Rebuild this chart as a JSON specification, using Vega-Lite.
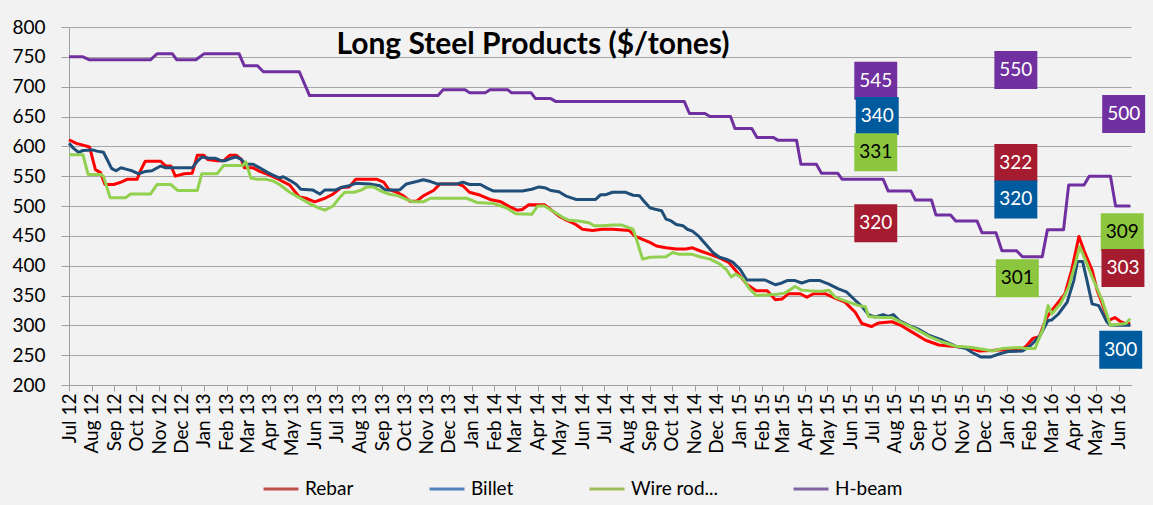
{
"$schema": "https://vega.github.io/schema/vega-lite/v6.json",
"width": 1062, "height": 358,
"autosize": "none",
"padding": {"left": 69, "top": 27, "right": 22, "bottom": 120},
"background": "#f2f2f2",
"config": {"view": {"stroke": null}, "font": "Lato"},
"title": {"text": "Long Steel Products ($/tones)", "font": "Lato", "fontSize": 30, "fontWeight": "bold", "color": "#000000", "anchor": "middle", "frame": "group", "offset": 0, "dx": -67, "dy": 42},
"datasets": {
"lines": [
{"s":"Rebar","d":"2012-07-01","v":611},{"s":"Rebar","d":"2012-07-11","v":605},{"s":"Rebar","d":"2012-07-20","v":602},{"s":"Rebar","d":"2012-07-29","v":599},{"s":"Rebar","d":"2012-08-06","v":561},{"s":"Rebar","d":"2012-08-13","v":556},{"s":"Rebar","d":"2012-08-19","v":536},{"s":"Rebar","d":"2012-08-31","v":536},{"s":"Rebar","d":"2012-09-10","v":540},{"s":"Rebar","d":"2012-09-19","v":545},{"s":"Rebar","d":"2012-10-02","v":545},{"s":"Rebar","d":"2012-10-06","v":558},{"s":"Rebar","d":"2012-10-13","v":575},{"s":"Rebar","d":"2012-11-03","v":575},{"s":"Rebar","d":"2012-11-10","v":567},{"s":"Rebar","d":"2012-11-17","v":567},{"s":"Rebar","d":"2012-11-23","v":550},{"s":"Rebar","d":"2012-12-05","v":554},{"s":"Rebar","d":"2012-12-16","v":555},{"s":"Rebar","d":"2012-12-23","v":585},{"s":"Rebar","d":"2013-01-01","v":585},{"s":"Rebar","d":"2013-01-06","v":578},{"s":"Rebar","d":"2013-01-19","v":576},{"s":"Rebar","d":"2013-01-28","v":576},{"s":"Rebar","d":"2013-02-05","v":585},{"s":"Rebar","d":"2013-02-14","v":585},{"s":"Rebar","d":"2013-02-21","v":578},{"s":"Rebar","d":"2013-02-25","v":564},{"s":"Rebar","d":"2013-03-09","v":564},{"s":"Rebar","d":"2013-03-18","v":558},{"s":"Rebar","d":"2013-03-29","v":553},{"s":"Rebar","d":"2013-04-14","v":544},{"s":"Rebar","d":"2013-04-28","v":535},{"s":"Rebar","d":"2013-05-11","v":515},{"s":"Rebar","d":"2013-05-20","v":513},{"s":"Rebar","d":"2013-06-01","v":507},{"s":"Rebar","d":"2013-06-15","v":513},{"s":"Rebar","d":"2013-06-26","v":520},{"s":"Rebar","d":"2013-07-07","v":531},{"s":"Rebar","d":"2013-07-18","v":532},{"s":"Rebar","d":"2013-07-27","v":545},{"s":"Rebar","d":"2013-08-24","v":545},{"s":"Rebar","d":"2013-09-03","v":540},{"s":"Rebar","d":"2013-09-10","v":528},{"s":"Rebar","d":"2013-09-21","v":523},{"s":"Rebar","d":"2013-09-30","v":517},{"s":"Rebar","d":"2013-10-09","v":508},{"s":"Rebar","d":"2013-10-18","v":508},{"s":"Rebar","d":"2013-10-27","v":517},{"s":"Rebar","d":"2013-11-10","v":526},{"s":"Rebar","d":"2013-11-19","v":537},{"s":"Rebar","d":"2013-12-12","v":537},{"s":"Rebar","d":"2013-12-20","v":534},{"s":"Rebar","d":"2013-12-29","v":523},{"s":"Rebar","d":"2014-01-13","v":518},{"s":"Rebar","d":"2014-01-26","v":511},{"s":"Rebar","d":"2014-02-10","v":507},{"s":"Rebar","d":"2014-02-23","v":498},{"s":"Rebar","d":"2014-03-04","v":493},{"s":"Rebar","d":"2014-03-11","v":494},{"s":"Rebar","d":"2014-03-20","v":502},{"s":"Rebar","d":"2014-04-10","v":502},{"s":"Rebar","d":"2014-04-19","v":494},{"s":"Rebar","d":"2014-04-30","v":483},{"s":"Rebar","d":"2014-05-11","v":476},{"s":"Rebar","d":"2014-05-23","v":469},{"s":"Rebar","d":"2014-06-01","v":461},{"s":"Rebar","d":"2014-06-15","v":459},{"s":"Rebar","d":"2014-06-28","v":461},{"s":"Rebar","d":"2014-07-12","v":461},{"s":"Rebar","d":"2014-08-04","v":459},{"s":"Rebar","d":"2014-08-11","v":450},{"s":"Rebar","d":"2014-08-22","v":444},{"s":"Rebar","d":"2014-09-01","v":439},{"s":"Rebar","d":"2014-09-10","v":433},{"s":"Rebar","d":"2014-09-23","v":430},{"s":"Rebar","d":"2014-10-07","v":428},{"s":"Rebar","d":"2014-10-20","v":428},{"s":"Rebar","d":"2014-10-29","v":430},{"s":"Rebar","d":"2014-11-08","v":425},{"s":"Rebar","d":"2014-11-22","v":419},{"s":"Rebar","d":"2014-12-05","v":413},{"s":"Rebar","d":"2014-12-18","v":405},{"s":"Rebar","d":"2014-12-27","v":392},{"s":"Rebar","d":"2015-01-11","v":369},{"s":"Rebar","d":"2015-01-24","v":358},{"s":"Rebar","d":"2015-02-08","v":358},{"s":"Rebar","d":"2015-02-16","v":347},{"s":"Rebar","d":"2015-02-19","v":343},{"s":"Rebar","d":"2015-02-28","v":344},{"s":"Rebar","d":"2015-03-09","v":353},{"s":"Rebar","d":"2015-03-25","v":353},{"s":"Rebar","d":"2015-04-03","v":347},{"s":"Rebar","d":"2015-04-12","v":353},{"s":"Rebar","d":"2015-04-28","v":353},{"s":"Rebar","d":"2015-05-09","v":347},{"s":"Rebar","d":"2015-05-25","v":339},{"s":"Rebar","d":"2015-06-08","v":322},{"s":"Rebar","d":"2015-06-17","v":303},{"s":"Rebar","d":"2015-06-30","v":298},{"s":"Rebar","d":"2015-07-10","v":304},{"s":"Rebar","d":"2015-07-28","v":306},{"s":"Rebar","d":"2015-08-09","v":300},{"s":"Rebar","d":"2015-08-24","v":289},{"s":"Rebar","d":"2015-09-12","v":275},{"s":"Rebar","d":"2015-09-30","v":267},{"s":"Rebar","d":"2015-10-18","v":265},{"s":"Rebar","d":"2015-11-06","v":263},{"s":"Rebar","d":"2015-11-24","v":257},{"s":"Rebar","d":"2015-12-12","v":258},{"s":"Rebar","d":"2015-12-21","v":259},{"s":"Rebar","d":"2016-01-18","v":258},{"s":"Rebar","d":"2016-01-27","v":265},{"s":"Rebar","d":"2016-02-05","v":278},{"s":"Rebar","d":"2016-02-14","v":281},{"s":"Rebar","d":"2016-02-23","v":311},{"s":"Rebar","d":"2016-03-02","v":325},{"s":"Rebar","d":"2016-03-11","v":339},{"s":"Rebar","d":"2016-03-20","v":353},{"s":"Rebar","d":"2016-03-29","v":392},{"s":"Rebar","d":"2016-04-08","v":449},{"s":"Rebar","d":"2016-04-15","v":425},{"s":"Rebar","d":"2016-04-26","v":392},{"s":"Rebar","d":"2016-05-03","v":358},{"s":"Rebar","d":"2016-05-09","v":339},{"s":"Rebar","d":"2016-05-18","v":308},{"s":"Rebar","d":"2016-05-27","v":313},{"s":"Rebar","d":"2016-06-04","v":306},{"s":"Rebar","d":"2016-06-11","v":303},{"s":"Rebar","d":"2016-06-17","v":303},
{"s":"Billet","d":"2012-07-01","v":605},{"s":"Billet","d":"2012-07-07","v":597},{"s":"Billet","d":"2012-07-14","v":590},{"s":"Billet","d":"2012-07-20","v":593},{"s":"Billet","d":"2012-08-02","v":594},{"s":"Billet","d":"2012-08-08","v":592},{"s":"Billet","d":"2012-08-17","v":590},{"s":"Billet","d":"2012-08-22","v":578},{"s":"Billet","d":"2012-08-28","v":563},{"s":"Billet","d":"2012-09-03","v":559},{"s":"Billet","d":"2012-09-10","v":564},{"s":"Billet","d":"2012-09-19","v":561},{"s":"Billet","d":"2012-09-25","v":559},{"s":"Billet","d":"2012-10-04","v":554},{"s":"Billet","d":"2012-10-13","v":558},{"s":"Billet","d":"2012-10-22","v":559},{"s":"Billet","d":"2012-11-03","v":567},{"s":"Billet","d":"2012-11-10","v":564},{"s":"Billet","d":"2012-12-16","v":564},{"s":"Billet","d":"2012-12-23","v":575},{"s":"Billet","d":"2012-12-29","v":582},{"s":"Billet","d":"2013-01-08","v":580},{"s":"Billet","d":"2013-01-17","v":580},{"s":"Billet","d":"2013-01-24","v":576},{"s":"Billet","d":"2013-01-30","v":576},{"s":"Billet","d":"2013-02-07","v":580},{"s":"Billet","d":"2013-02-14","v":582},{"s":"Billet","d":"2013-02-21","v":578},{"s":"Billet","d":"2013-02-27","v":570},{"s":"Billet","d":"2013-03-09","v":570},{"s":"Billet","d":"2013-03-18","v":564},{"s":"Billet","d":"2013-03-29","v":556},{"s":"Billet","d":"2013-04-08","v":550},{"s":"Billet","d":"2013-04-14","v":547},{"s":"Billet","d":"2013-04-19","v":549},{"s":"Billet","d":"2013-04-28","v":543},{"s":"Billet","d":"2013-05-07","v":536},{"s":"Billet","d":"2013-05-13","v":528},{"s":"Billet","d":"2013-05-29","v":527},{"s":"Billet","d":"2013-06-08","v":520},{"s":"Billet","d":"2013-06-15","v":527},{"s":"Billet","d":"2013-06-30","v":527},{"s":"Billet","d":"2013-07-07","v":531},{"s":"Billet","d":"2013-07-18","v":534},{"s":"Billet","d":"2013-07-27","v":538},{"s":"Billet","d":"2013-08-15","v":537},{"s":"Billet","d":"2013-08-29","v":534},{"s":"Billet","d":"2013-09-05","v":527},{"s":"Billet","d":"2013-09-25","v":527},{"s":"Billet","d":"2013-10-04","v":537},{"s":"Billet","d":"2013-10-18","v":541},{"s":"Billet","d":"2013-10-27","v":544},{"s":"Billet","d":"2013-11-06","v":541},{"s":"Billet","d":"2013-11-15","v":537},{"s":"Billet","d":"2013-12-12","v":537},{"s":"Billet","d":"2013-12-20","v":540},{"s":"Billet","d":"2013-12-29","v":536},{"s":"Billet","d":"2014-01-13","v":536},{"s":"Billet","d":"2014-01-22","v":530},{"s":"Billet","d":"2014-01-31","v":525},{"s":"Billet","d":"2014-03-11","v":525},{"s":"Billet","d":"2014-03-24","v":528},{"s":"Billet","d":"2014-04-03","v":532},{"s":"Billet","d":"2014-04-12","v":530},{"s":"Billet","d":"2014-04-19","v":526},{"s":"Billet","d":"2014-04-30","v":524},{"s":"Billet","d":"2014-05-09","v":517},{"s":"Billet","d":"2014-05-23","v":511},{"s":"Billet","d":"2014-06-19","v":511},{"s":"Billet","d":"2014-06-26","v":519},{"s":"Billet","d":"2014-07-03","v":519},{"s":"Billet","d":"2014-07-12","v":523},{"s":"Billet","d":"2014-07-30","v":523},{"s":"Billet","d":"2014-08-09","v":518},{"s":"Billet","d":"2014-08-18","v":517},{"s":"Billet","d":"2014-08-24","v":508},{"s":"Billet","d":"2014-09-01","v":497},{"s":"Billet","d":"2014-09-10","v":494},{"s":"Billet","d":"2014-09-17","v":492},{"s":"Billet","d":"2014-09-23","v":478},{"s":"Billet","d":"2014-09-30","v":475},{"s":"Billet","d":"2014-10-07","v":469},{"s":"Billet","d":"2014-10-16","v":467},{"s":"Billet","d":"2014-10-22","v":461},{"s":"Billet","d":"2014-10-29","v":458},{"s":"Billet","d":"2014-11-06","v":450},{"s":"Billet","d":"2014-11-26","v":422},{"s":"Billet","d":"2014-12-05","v":414},{"s":"Billet","d":"2014-12-14","v":411},{"s":"Billet","d":"2014-12-23","v":406},{"s":"Billet","d":"2015-01-02","v":394},{"s":"Billet","d":"2015-01-11","v":376},{"s":"Billet","d":"2015-02-05","v":376},{"s":"Billet","d":"2015-02-12","v":372},{"s":"Billet","d":"2015-02-19","v":368},{"s":"Billet","d":"2015-02-28","v":371},{"s":"Billet","d":"2015-03-07","v":375},{"s":"Billet","d":"2015-03-18","v":375},{"s":"Billet","d":"2015-03-27","v":371},{"s":"Billet","d":"2015-04-06","v":375},{"s":"Billet","d":"2015-04-21","v":375},{"s":"Billet","d":"2015-05-03","v":369},{"s":"Billet","d":"2015-05-16","v":361},{"s":"Billet","d":"2015-05-27","v":356},{"s":"Billet","d":"2015-06-08","v":342},{"s":"Billet","d":"2015-06-17","v":332},{"s":"Billet","d":"2015-06-26","v":318},{"s":"Billet","d":"2015-07-05","v":314},{"s":"Billet","d":"2015-07-16","v":318},{"s":"Billet","d":"2015-07-23","v":315},{"s":"Billet","d":"2015-07-30","v":318},{"s":"Billet","d":"2015-08-07","v":308},{"s":"Billet","d":"2015-08-20","v":300},{"s":"Billet","d":"2015-09-03","v":293},{"s":"Billet","d":"2015-09-17","v":283},{"s":"Billet","d":"2015-10-05","v":275},{"s":"Billet","d":"2015-10-23","v":265},{"s":"Billet","d":"2015-11-06","v":261},{"s":"Billet","d":"2015-11-15","v":254},{"s":"Billet","d":"2015-11-26","v":247},{"s":"Billet","d":"2015-12-10","v":247},{"s":"Billet","d":"2015-12-21","v":252},{"s":"Billet","d":"2016-01-02","v":256},{"s":"Billet","d":"2016-01-22","v":257},{"s":"Billet","d":"2016-02-01","v":265},{"s":"Billet","d":"2016-02-14","v":281},{"s":"Billet","d":"2016-02-26","v":308},{"s":"Billet","d":"2016-03-02","v":309},{"s":"Billet","d":"2016-03-11","v":319},{"s":"Billet","d":"2016-03-23","v":339},{"s":"Billet","d":"2016-04-01","v":375},{"s":"Billet","d":"2016-04-06","v":407},{"s":"Billet","d":"2016-04-13","v":407},{"s":"Billet","d":"2016-04-19","v":375},{"s":"Billet","d":"2016-04-26","v":336},{"s":"Billet","d":"2016-05-05","v":333},{"s":"Billet","d":"2016-05-16","v":306},{"s":"Billet","d":"2016-05-21","v":300},{"s":"Billet","d":"2016-06-11","v":300},{"s":"Billet","d":"2016-06-17","v":300},
{"s":"Wire rod...","d":"2012-07-01","v":586},{"s":"Wire rod...","d":"2012-07-20","v":586},{"s":"Wire rod...","d":"2012-07-27","v":553},{"s":"Wire rod...","d":"2012-08-13","v":553},{"s":"Wire rod...","d":"2012-08-17","v":550},{"s":"Wire rod...","d":"2012-08-26","v":514},{"s":"Wire rod...","d":"2012-09-16","v":514},{"s":"Wire rod...","d":"2012-09-23","v":520},{"s":"Wire rod...","d":"2012-10-20","v":520},{"s":"Wire rod...","d":"2012-10-29","v":536},{"s":"Wire rod...","d":"2012-11-17","v":536},{"s":"Wire rod...","d":"2012-11-26","v":526},{"s":"Wire rod...","d":"2012-12-23","v":526},{"s":"Wire rod...","d":"2012-12-29","v":554},{"s":"Wire rod...","d":"2013-01-19","v":554},{"s":"Wire rod...","d":"2013-01-28","v":568},{"s":"Wire rod...","d":"2013-02-23","v":568},{"s":"Wire rod...","d":"2013-02-27","v":574},{"s":"Wire rod...","d":"2013-03-06","v":547},{"s":"Wire rod...","d":"2013-03-13","v":545},{"s":"Wire rod...","d":"2013-03-26","v":545},{"s":"Wire rod...","d":"2013-04-05","v":542},{"s":"Wire rod...","d":"2013-04-14","v":536},{"s":"Wire rod...","d":"2013-04-28","v":523},{"s":"Wire rod...","d":"2013-05-11","v":514},{"s":"Wire rod...","d":"2013-05-25","v":504},{"s":"Wire rod...","d":"2013-06-06","v":497},{"s":"Wire rod...","d":"2013-06-15","v":493},{"s":"Wire rod...","d":"2013-06-26","v":500},{"s":"Wire rod...","d":"2013-07-05","v":514},{"s":"Wire rod...","d":"2013-07-12","v":523},{"s":"Wire rod...","d":"2013-07-25","v":523},{"s":"Wire rod...","d":"2013-08-04","v":527},{"s":"Wire rod...","d":"2013-08-11","v":532},{"s":"Wire rod...","d":"2013-08-20","v":532},{"s":"Wire rod...","d":"2013-08-29","v":526},{"s":"Wire rod...","d":"2013-09-10","v":520},{"s":"Wire rod...","d":"2013-09-23","v":517},{"s":"Wire rod...","d":"2013-10-04","v":511},{"s":"Wire rod...","d":"2013-10-13","v":507},{"s":"Wire rod...","d":"2013-10-27","v":507},{"s":"Wire rod...","d":"2013-11-06","v":513},{"s":"Wire rod...","d":"2013-12-25","v":513},{"s":"Wire rod...","d":"2014-01-08","v":506},{"s":"Wire rod...","d":"2014-01-31","v":504},{"s":"Wire rod...","d":"2014-02-10","v":500},{"s":"Wire rod...","d":"2014-02-19","v":496},{"s":"Wire rod...","d":"2014-03-02","v":487},{"s":"Wire rod...","d":"2014-03-24","v":486},{"s":"Wire rod...","d":"2014-04-01","v":500},{"s":"Wire rod...","d":"2014-04-10","v":500},{"s":"Wire rod...","d":"2014-04-21","v":492},{"s":"Wire rod...","d":"2014-05-05","v":481},{"s":"Wire rod...","d":"2014-05-14","v":476},{"s":"Wire rod...","d":"2014-05-27","v":475},{"s":"Wire rod...","d":"2014-06-10","v":472},{"s":"Wire rod...","d":"2014-06-17","v":467},{"s":"Wire rod...","d":"2014-06-28","v":467},{"s":"Wire rod...","d":"2014-07-12","v":468},{"s":"Wire rod...","d":"2014-07-25","v":468},{"s":"Wire rod...","d":"2014-08-09","v":461},{"s":"Wire rod...","d":"2014-08-13","v":447},{"s":"Wire rod...","d":"2014-08-22","v":411},{"s":"Wire rod...","d":"2014-09-01","v":414},{"s":"Wire rod...","d":"2014-09-23","v":415},{"s":"Wire rod...","d":"2014-10-02","v":422},{"s":"Wire rod...","d":"2014-10-11","v":419},{"s":"Wire rod...","d":"2014-10-29","v":419},{"s":"Wire rod...","d":"2014-11-08","v":415},{"s":"Wire rod...","d":"2014-11-22","v":411},{"s":"Wire rod...","d":"2014-12-05","v":403},{"s":"Wire rod...","d":"2014-12-14","v":394},{"s":"Wire rod...","d":"2014-12-21","v":381},{"s":"Wire rod...","d":"2014-12-27","v":386},{"s":"Wire rod...","d":"2015-01-06","v":378},{"s":"Wire rod...","d":"2015-01-15","v":361},{"s":"Wire rod...","d":"2015-01-24","v":350},{"s":"Wire rod...","d":"2015-02-21","v":352},{"s":"Wire rod...","d":"2015-03-04","v":354},{"s":"Wire rod...","d":"2015-03-18","v":365},{"s":"Wire rod...","d":"2015-03-27","v":359},{"s":"Wire rod...","d":"2015-04-15","v":357},{"s":"Wire rod...","d":"2015-04-24","v":357},{"s":"Wire rod...","d":"2015-05-03","v":359},{"s":"Wire rod...","d":"2015-05-12","v":347},{"s":"Wire rod...","d":"2015-05-30","v":339},{"s":"Wire rod...","d":"2015-06-13","v":333},{"s":"Wire rod...","d":"2015-06-22","v":331},{"s":"Wire rod...","d":"2015-06-26","v":315},{"s":"Wire rod...","d":"2015-07-14","v":313},{"s":"Wire rod...","d":"2015-07-28","v":313},{"s":"Wire rod...","d":"2015-08-11","v":304},{"s":"Wire rod...","d":"2015-08-29","v":294},{"s":"Wire rod...","d":"2015-09-17","v":281},{"s":"Wire rod...","d":"2015-10-05","v":272},{"s":"Wire rod...","d":"2015-10-23","v":265},{"s":"Wire rod...","d":"2015-11-15","v":263},{"s":"Wire rod...","d":"2015-12-12","v":257},{"s":"Wire rod...","d":"2015-12-25","v":261},{"s":"Wire rod...","d":"2016-01-18","v":263},{"s":"Wire rod...","d":"2016-01-27","v":261},{"s":"Wire rod...","d":"2016-02-08","v":261},{"s":"Wire rod...","d":"2016-02-19","v":294},{"s":"Wire rod...","d":"2016-02-26","v":333},{"s":"Wire rod...","d":"2016-03-02","v":319},{"s":"Wire rod...","d":"2016-03-14","v":336},{"s":"Wire rod...","d":"2016-03-25","v":364},{"s":"Wire rod...","d":"2016-04-03","v":403},{"s":"Wire rod...","d":"2016-04-09","v":432},{"s":"Wire rod...","d":"2016-04-19","v":403},{"s":"Wire rod...","d":"2016-04-26","v":381},{"s":"Wire rod...","d":"2016-05-09","v":344},{"s":"Wire rod...","d":"2016-05-21","v":300},{"s":"Wire rod...","d":"2016-06-02","v":302},{"s":"Wire rod...","d":"2016-06-11","v":303},{"s":"Wire rod...","d":"2016-06-17","v":311},
{"s":"H-beam","d":"2012-07-01","v":750},{"s":"H-beam","d":"2012-07-20","v":750},{"s":"H-beam","d":"2012-07-29","v":745},{"s":"H-beam","d":"2012-10-20","v":745},{"s":"H-beam","d":"2012-10-29","v":755},{"s":"H-beam","d":"2012-11-19","v":755},{"s":"H-beam","d":"2012-11-25","v":745},{"s":"H-beam","d":"2012-12-21","v":745},{"s":"H-beam","d":"2013-01-01","v":755},{"s":"H-beam","d":"2013-02-18","v":755},{"s":"H-beam","d":"2013-02-25","v":735},{"s":"H-beam","d":"2013-03-15","v":735},{"s":"H-beam","d":"2013-03-23","v":725},{"s":"H-beam","d":"2013-05-11","v":725},{"s":"H-beam","d":"2013-05-25","v":685},{"s":"H-beam","d":"2013-11-16","v":685},{"s":"H-beam","d":"2013-11-23","v":695},{"s":"H-beam","d":"2013-12-23","v":695},{"s":"H-beam","d":"2013-12-29","v":690},{"s":"H-beam","d":"2014-01-20","v":690},{"s":"H-beam","d":"2014-01-26","v":695},{"s":"H-beam","d":"2014-02-19","v":695},{"s":"H-beam","d":"2014-02-24","v":690},{"s":"H-beam","d":"2014-03-23","v":690},{"s":"H-beam","d":"2014-03-29","v":680},{"s":"H-beam","d":"2014-04-19","v":680},{"s":"H-beam","d":"2014-04-26","v":675},{"s":"H-beam","d":"2014-10-18","v":675},{"s":"H-beam","d":"2014-10-25","v":655},{"s":"H-beam","d":"2014-11-15","v":655},{"s":"H-beam","d":"2014-11-22","v":650},{"s":"H-beam","d":"2014-12-20","v":650},{"s":"H-beam","d":"2014-12-26","v":630},{"s":"H-beam","d":"2015-01-18","v":630},{"s":"H-beam","d":"2015-01-25","v":615},{"s":"H-beam","d":"2015-02-16","v":615},{"s":"H-beam","d":"2015-02-23","v":610},{"s":"H-beam","d":"2015-03-20","v":610},{"s":"H-beam","d":"2015-03-26","v":570},{"s":"H-beam","d":"2015-04-16","v":570},{"s":"H-beam","d":"2015-04-23","v":555},{"s":"H-beam","d":"2015-05-15","v":555},{"s":"H-beam","d":"2015-05-21","v":545},{"s":"H-beam","d":"2015-07-16","v":545},{"s":"H-beam","d":"2015-07-23","v":525},{"s":"H-beam","d":"2015-08-23","v":525},{"s":"H-beam","d":"2015-08-29","v":510},{"s":"H-beam","d":"2015-09-20","v":510},{"s":"H-beam","d":"2015-09-26","v":485},{"s":"H-beam","d":"2015-10-16","v":485},{"s":"H-beam","d":"2015-10-23","v":475},{"s":"H-beam","d":"2015-11-21","v":475},{"s":"H-beam","d":"2015-11-28","v":455},{"s":"H-beam","d":"2015-12-17","v":455},{"s":"H-beam","d":"2015-12-25","v":425},{"s":"H-beam","d":"2016-01-14","v":425},{"s":"H-beam","d":"2016-01-22","v":415},{"s":"H-beam","d":"2016-02-18","v":415},{"s":"H-beam","d":"2016-02-25","v":460},{"s":"H-beam","d":"2016-03-18","v":460},{"s":"H-beam","d":"2016-03-25","v":535},{"s":"H-beam","d":"2016-04-15","v":535},{"s":"H-beam","d":"2016-04-22","v":550},{"s":"H-beam","d":"2016-05-21","v":550},{"s":"H-beam","d":"2016-05-28","v":500},{"s":"H-beam","d":"2016-06-17","v":500}
],
"ann": [
{"s":"H-beam","d":"2015-07-06","v":710,"t":"545"},
{"s":"Billet","d":"2015-07-08","v":651,"t":"340"},
{"s":"Wire rod...","d":"2015-07-06","v":590,"t":"331"},
{"s":"Rebar","d":"2015-07-06","v":471,"t":"320"},
{"s":"H-beam","d":"2016-01-13","v":728,"t":"550"},
{"s":"Rebar","d":"2016-01-13","v":572,"t":"322"},
{"s":"Billet","d":"2016-01-13","v":511,"t":"320"},
{"s":"Wire rod...","d":"2016-01-15","v":379,"t":"301"},
{"s":"H-beam","d":"2016-06-08","v":654,"t":"500"},
{"s":"Wire rod...","d":"2016-06-06","v":456,"t":"309"},
{"s":"Rebar","d":"2016-06-07","v":396,"t":"303"},
{"s":"Billet","d":"2016-06-04","v":259,"t":"300"}
]
},
"encoding": {
"x": {"field": "d", "type": "temporal",
 "scale": {"type": "utc", "domain": [{"year": 2012, "month": 7, "date": 1, "utc": true}, {"year": 2016, "month": 6, "date": 18, "utc": true}]},
 "axis": {"title": null, "grid": false, "tickCount": {"interval": "month", "step": 1}, "labelExpr": "utcFormat(datum.value, '%b %y')", "labelAngle": -90, "labelOverlap": false, "labelFlush": false, "labelBound": false, "labelFont": "Lato", "labelFontSize": 19, "labelColor": "#000000", "labelPadding": 2, "tickSize": 6, "tickColor": "#a0a0a0", "domainColor": "#a0a0a0", "domainWidth": 1}},
"y": {"field": "v", "type": "quantitative",
 "scale": {"domain": [200, 800], "nice": false, "zero": false},
 "axis": {"title": null, "values": [200, 250, 300, 350, 400, 450, 500, 550, 600, 650, 700, 750, 800], "grid": true, "gridColor": "#a6a6a6", "gridWidth": 1, "domainColor": "#a0a0a0", "tickColor": "#a0a0a0", "tickSize": 8, "labelPadding": 16, "labelFont": "Lato", "labelFontSize": 19, "labelColor": "#000000"}}
},
"layer": [
{"data": {"name": "lines"},
 "transform": [{"filter": "false"}],
 "mark": {"type": "line", "strokeWidth": 3},
 "encoding": {
  "stroke": {"field": "s", "type": "nominal",
   "scale": {"domain": ["Rebar", "Billet", "Wire rod...", "H-beam"], "range": ["#c0504d", "#4f81bd", "#9bbb59", "#8064a2"]},
   "legend": {"orient": "none", "legendX": 193, "legendY": 443, "direction": "horizontal", "title": null, "symbolType": "stroke", "symbolStrokeWidth": 3, "symbolSize": 1225, "labelFont": "Lato", "labelFontSize": 19, "labelColor": "#000000", "columnPadding": 69, "labelOffset": 5, "padding": 0}
  }
 }
},
{"data": {"name": "lines"},
 "mark": {"type": "line", "strokeWidth": 3, "strokeJoin": "round"},
 "encoding": {
  "color": {"field": "s", "type": "nominal",
   "scale": {"domain": ["Rebar", "Billet", "Wire rod...", "H-beam"], "range": ["#ff0000", "#1f4e79", "#92d050", "#7030a0"]},
   "legend": null
  }
 }
},
{"data": {"name": "ann"},
 "mark": {"type": "point", "shape": "M-1.13,-1H1.13V1H-1.13Z", "size": 1444, "filled": true, "opacity": 1, "strokeWidth": 0},
 "encoding": {
  "fill": {"field": "s", "type": "nominal", "scale": {"domain": ["Rebar", "Billet", "Wire rod...", "H-beam"], "range": ["#a51b30", "#005a9e", "#8cc63f", "#7030a0"]}, "legend": null}
 }
},
{"data": {"name": "ann"},
 "mark": {"type": "text", "font": "Lato", "fontSize": 19, "align": "center", "baseline": "middle"},
 "encoding": {
  "text": {"field": "t"},
  "color": {"condition": {"test": "datum.s === 'Wire rod...'", "value": "#000000"}, "value": "#ffffff"}
 }
}
]
}
